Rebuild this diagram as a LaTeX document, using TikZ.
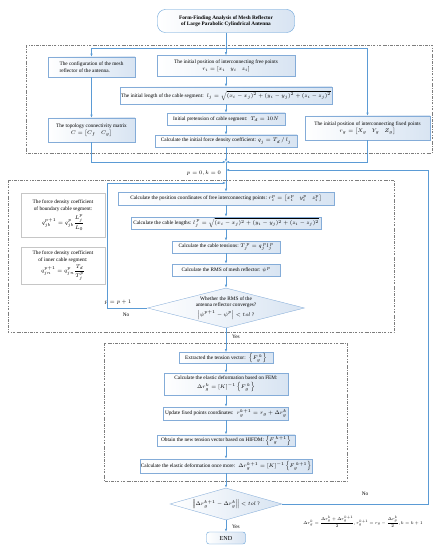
\documentclass[tikz,border=0pt]{standalone}
\usepackage{amsmath}
\usepackage{graphicx}
\usepackage{fontspec}
\setmainfont{Liberation Serif}
\usepackage{tikz}
\usetikzlibrary{shapes.geometric, arrows.meta, positioning}
\definecolor{flowblue}{RGB}{91,155,213}
\definecolor{boxedge}{RGB}{132,172,216}
\definecolor{boxfill}{RGB}{216,228,242}
\definecolor{framegray}{RGB}{125,125,125}
\newcommand{\flowfont}{\fontsize{6}{7.4}\selectfont}

\begin{document}
\begin{tikzpicture}[
    x=0.04cm, y=-0.04cm,
    proc/.style={rectangle, draw=boxedge, left color=white, right color=boxfill, align=center, font=\flowfont, inner sep=1pt},
    note/.style={rectangle, draw=gray!45, fill=white, align=center, font=\flowfont, inner sep=1pt},
    decide/.style={diamond, draw=boxedge, left color=white, right color=boxfill, align=center, font=\flowfont, inner sep=0pt},
    dashframe/.style={draw=framegray, line width=0.5pt, dash pattern=on 3pt off 1.5pt on 0.6pt off 1.5pt},
    arrow/.style={draw=flowblue, line width=0.6pt, -{Latex[length=3.5pt,width=2.6pt]}},
    link/.style={draw=flowblue, line width=0.6pt},
    lbl/.style={font=\flowfont}
]
\useasboundingbox (0,0) rectangle (443,550);

% group frames
\draw[dashframe] (26,45) rectangle (432,153);
\draw[dashframe] (8,180) rectangle (394,332);
\draw[dashframe] (104,343) rectangle (347,481);

% title
\node[proc, draw=flowblue, rounded corners=9pt, minimum width=5.48cm, minimum height=0.92cm, font=\flowfont\bfseries] (title) at (226,21) {Form-Finding Analysis of Mesh Reflector\\of Large Parabolic Cylindrical Antenna};

% initial model
\node[proc, align=left, minimum width=3.48cm, minimum height=0.8cm] (config) at (91.5,67) {The configuration of the mesh\\reflector of the antenna.};
\node[proc, minimum width=5.52cm, minimum height=0.84cm] (initfree) at (226,66) {The initial position of interconnecting free points\\[1pt]$r_i=\left[x_i \quad y_i \quad z_i\right]$};
\node[proc, minimum width=8.4cm, minimum height=0.68cm] (initlen) at (226,95.5) {The initial length of the cable segment: \ $l_j=\sqrt{(x_i-x_j)^2+(y_i-y_j)^2+(z_i-z_j)^2}$};
\node[proc, minimum width=4.72cm, minimum height=0.48cm] (pretens) at (226,119) {Initial pretension of cable segment: \ $T_d=10N$};
\node[proc, minimum width=5.68cm, minimum height=0.48cm] (initq) at (226,141) {Calculate the initial force density coefficient: $q_j=T_d\,/\,l_j$};
\node[proc, minimum width=3.48cm, minimum height=0.96cm] (topo) at (91.5,130) {The topology connectivity matrix\\[1pt]$C=\left[C_f \quad C_g\right]$};
\node[proc, minimum width=5cm, minimum height=0.96cm] (fixed) at (367.5,128) {The initial position of interconnecting fixed points\\[1pt]$r_g=\left[X_g \quad Y_g \quad Z_g\right]$};

\coordinate (split) at (226,48);
\coordinate (merge) at (226,162);

% form-finding loop
\node[lbl, left] (pkinit) at (224,173) {$p=0,k=0$};
\node[proc, minimum width=8.64cm, minimum height=0.52cm] (poscoord) at (226,198.5) {Calculate the position coordinates of free interconnecting points: $r_i^p=\left[x_i^p \quad y_i^p \quad z_i^p\right]$};
\node[proc, minimum width=7.6cm, minimum height=0.48cm] (lengths) at (226,223) {Calculate the cable lengths: $l_j^{\,p}=\sqrt{(x_i-x_j)^2+(y_i-y_j)^2+(z_i-z_j)^2}$};
\node[proc, minimum width=4.32cm, minimum height=0.48cm] (tensions) at (226,247) {Calculate the cable tensions: $T_j^{\,p}=q_j^{\,p}l_j^{\,p}$};
\node[proc, minimum width=4.32cm, minimum height=0.48cm] (rms) at (226,270) {Calculate the RMS of mesh reflector: $\psi^p$};
\node[decide, minimum width=6.28cm, minimum height=1.6cm, aspect=3.9] (rmsq) at (226,308) {Whether the RMS of the\\antenna reflector converges?\\[1.5pt]$\left|\psi^{p+1}-\psi^p\right|<tol$ ?};

\node[note, minimum width=3.36cm, minimum height=1.76cm] (bndq) at (63,215) {The force density coefficient\\of boundary cable segment:\\[3pt]$q_{jb}^{p+1}=q_{jb}^{p}\dfrac{L_j^p}{L_0}$};
\node[note, minimum width=3.36cm, minimum height=1.48cm] (innq) at (63,265.5) {The force density coefficient\\of inner cable segment:\\[2pt]$q_{jn}^{p+1}=q_{jn}^{p}\dfrac{T_d}{T_j^p}$};

\node[lbl] (pstep) at (118,302) {$p=p+1$};
\node[lbl] (pno) at (126,315) {No};
\node[lbl, right] (pyes) at (229,337) {Yes};

\coordinate (pcorner) at (107,183);
\coordinate (pret) at (226,183);

% fixed points update
\node[proc, minimum width=3.76cm, minimum height=0.44cm] (extract) at (226,358) {Extracted the tension vector: \ $\left\{F_g^{\,k}\right\}$};
\node[proc, minimum width=4.96cm, minimum height=0.88cm] (fem) at (226,384) {Calculate the elastic deformation based on FEM:\\[2.5pt]$\Delta r_g^k=\left[K\right]^{-1}\left\{F_g^{\,k}\right\}$};
\node[proc, minimum width=5cm, minimum height=0.52cm] (update) at (226,413.5) {Update fixed points coordinates: \ $r_g^{k+1}=r_g+\Delta r_g^k$};
\node[proc, minimum width=5.52cm, minimum height=0.46cm] (newF) at (226,440.5) {Obtain the new tension vector based on HIFDM: $\left\{F_g^{\,k+1}\right\}$};
\node[proc, minimum width=6.72cm, minimum height=0.56cm] (once) at (226,466) {Calculate the elastic deformation once more: \ $\Delta r_g^{k+1}=\left[K\right]^{-1}\left\{F_g^{\,k+1}\right\}$};
\node[decide, minimum width=4.48cm, minimum height=1.28cm, aspect=3.5] (conv) at (226,504) {$\left\|\Delta r_g^{k+1}-\Delta r_g^k\right\|<tol$ ?};
\node[proc, draw=flowblue, rounded corners=3pt, minimum width=1.56cm, minimum height=0.48cm, font=\fontsize{7}{8.4}\selectfont] (endn) at (226,538) {END};

\node[lbl, right] (kyes) at (229,527) {Yes};
\node[lbl] (kno) at (365,494) {No};
\node[lbl] (kupd) at (363,522) {\scalebox{0.8}{$\Delta r_g^k=\dfrac{\Delta r_g^k+\Delta r_g^{k+1}}{2},r_g^{k+1}=r_g-\dfrac{\Delta r_g^k}{2},k=k+1$}};

\coordinate (kcorner) at (428,170);
\coordinate (kret) at (226,170);

% Arrows
\draw[link] (title) -- (split);
\draw[arrow] (split) -| (config);
\draw[arrow] (split) -- (initfree);
\draw[arrow] (split) -| (fixed);
\draw[arrow] (config) -- (topo);
\draw[arrow] (initfree) -- (initlen);
\draw[arrow] (initlen) -- (pretens);
\draw[arrow] (pretens) -- (initq);
\draw[arrow] (initq) -- (merge);
\draw[arrow] (topo) |- (merge);
\draw[arrow] (fixed) |- (merge);
\draw[arrow] (merge) -- (poscoord);
\draw[arrow] (poscoord) -- (lengths);
\draw[arrow] (lengths) -- (tensions);
\draw[arrow] (tensions) -- (rms);
\draw[arrow] (rms) -- (rmsq);
\draw[arrow] (rmsq.west) -| (pcorner) -- (pret);
\draw[arrow] (rmsq) -- (extract);
\draw[arrow] (extract) -- (fem);
\draw[arrow] (fem) -- (update);
\draw[arrow] (update) -- (newF);
\draw[arrow] (newF) -- (once);
\draw[arrow] (once) -- (conv);
\draw[arrow] (conv) -- (endn);
\draw[arrow] (conv.east) -| (kcorner) -- (kret);

\end{tikzpicture}
\end{document}
